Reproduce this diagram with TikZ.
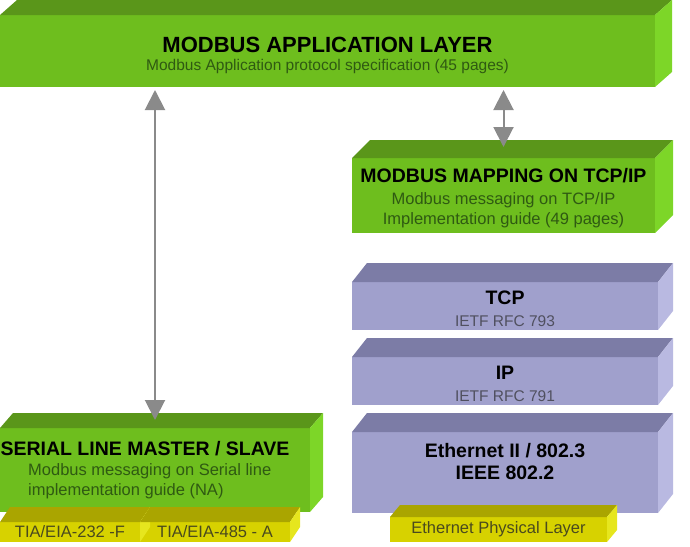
\documentclass[tikz,border=0pt]{standalone}
\usepackage{fontspec}
\setmainfont{Liberation Sans}
\usetikzlibrary{arrows.meta,scopes}

\definecolor{greenfront}{HTML}{6EBE1E}
\definecolor{greentop}{HTML}{5A961A}
\definecolor{greenside}{HTML}{7DD628}
\definecolor{greentext}{HTML}{2F5A12}
\definecolor{bluefront}{HTML}{A0A0CC}
\definecolor{bluetop}{HTML}{7C7CA6}
\definecolor{blueside}{HTML}{B9B9E1}
\definecolor{bluetext}{HTML}{50505F}
\definecolor{yellowfront}{HTML}{D7D200}
\definecolor{yellowtop}{HTML}{AAA500}
\definecolor{yellowside}{HTML}{E6E61E}
\definecolor{yellowtext}{HTML}{4A4A1E}
\definecolor{arrowgray}{HTML}{8A8A8A}

\newcommand\bigtitle[1]{{\color{black}\fontsize{22}{23}\selectfont\bfseries #1}}
\newcommand\midtitle[1]{{\color{black}\fontsize{19.5}{21}\selectfont\bfseries #1}}
\newcommand\subtext{\fontsize{15.5}{19}\selectfont}
\newcommand\bodytext{\fontsize{16.5}{20}\selectfont}
% invisible struts to push text down (top) or up (bottom)
\newcommand\uppad[1]{\rule{0pt}{#1}}
\newcommand\downpad[1]{\rule[-#1]{0pt}{0pt}}
% top and side faces of a layer block
\newcommand\faces[4]{%
  \fill[#4top] (#1.north west) -- ++(#2,-#3) -- ([shift={(#2,-#3)}]#1.north east) -- (#1.north east) -- cycle;
  \fill[#4side] (#1.north east) -- ++(#2,-#3) -- ([shift={(#2,-#3)}]#1.south east) -- (#1.south east) -- cycle;
}

\begin{document}
\begin{tikzpicture}[x=1pt,y=-1pt,
    layer/.style={inner sep=0pt,outer sep=0pt,align=center,font=\subtext},
    link/.style={draw=arrowgray,line width=2pt,shorten <=3pt,
      {Triangle[length=20pt,width=20pt]}-{Triangle[length=20pt,width=20pt]}}]
  \useasboundingbox (0,0) rectangle (690,546);
  % application layer
  \node [layer,fill=greenfront,text=greentext,minimum width=655,minimum height=72] (app) at (327.5,51)
    {\bigtitle{\uppad{24pt}MODBUS APPLICATION LAYER}\\[-1pt] Modbus Application protocol specification (45 pages)};
  \faces{app}{17}{15}{green}
  % tcp/ip side
  \node [layer,fill=greenfront,text=greentext,font=\bodytext,minimum width=303,minimum height=75] (map) at (503.5,195.5)
    {\midtitle{\uppad{20pt}MODBUS MAPPING ON TCP/IP}\\[2pt] Modbus messaging on TCP/IP\\Implementation guide (49 pages)};
  \faces{map}{18}{18}{green}
  { [every node/.style={layer,fill=bluefront,text=bluetext,minimum width=306}]
    \node [minimum height=48] (tcp) at (505,306) {\midtitle{\uppad{20pt}TCP}\\[3pt] IETF RFC 793};
    \node [minimum height=48] (ip) at (505,381) {\midtitle{\uppad{20pt}IP}\\[3pt] IETF RFC 791};
    \node [minimum height=81] (eth) at (505,472.5)
      {\midtitle{Ethernet II / 802.3}\\[3pt] \midtitle{IEEE 802.2\downpad{22pt}}};
  }
  \faces{tcp}{15}{19}{blue}
  \faces{ip}{15}{19}{blue}
  \faces{eth}{15}{19}{blue}
  \node [layer,fill=yellowfront,text=yellowtext,font=\bodytext,minimum width=217,minimum height=25] (phy) at (498.5,529.5)
    {Ethernet Physical Layer};
  \faces{phy}{10}{12}{yellow}
  % serial line side
  \node [layer,fill=greenfront,minimum width=310,minimum height=84] (serial) at (155,470) {};
  \faces{serial}{13}{15}{green}
  \node [inner sep=0pt] (serialtitle) at (145,449) {\midtitle{SERIAL LINE MASTER / SLAVE}};
  \node [anchor=west,align=left,inner sep=0pt,font=\bodytext,text=greentext] (serialtext) at (28,481)
    {Modbus messaging on Serial line\\implementation guide (NA)};
  { [every node/.style={layer,fill=yellowfront,text=yellowtext,font=\bodytext,minimum height=20}]
    \node [minimum width=140] (rs232) at (70,532) {TIA/EIA-232 -F};
    \node [minimum width=150] (rs485) at (215,532) {TIA/EIA-485 - A};
  }
  \faces{rs232}{10}{15}{yellow}
  \faces{rs485}{10}{15}{yellow}
  % links between layers
  \draw [link] (app.south -| serial.north) -- ([yshift=8pt]serial.north);
  \draw [link] (app.south -| map.north) -- ([yshift=11pt]map.north);
\end{tikzpicture}
\end{document}
